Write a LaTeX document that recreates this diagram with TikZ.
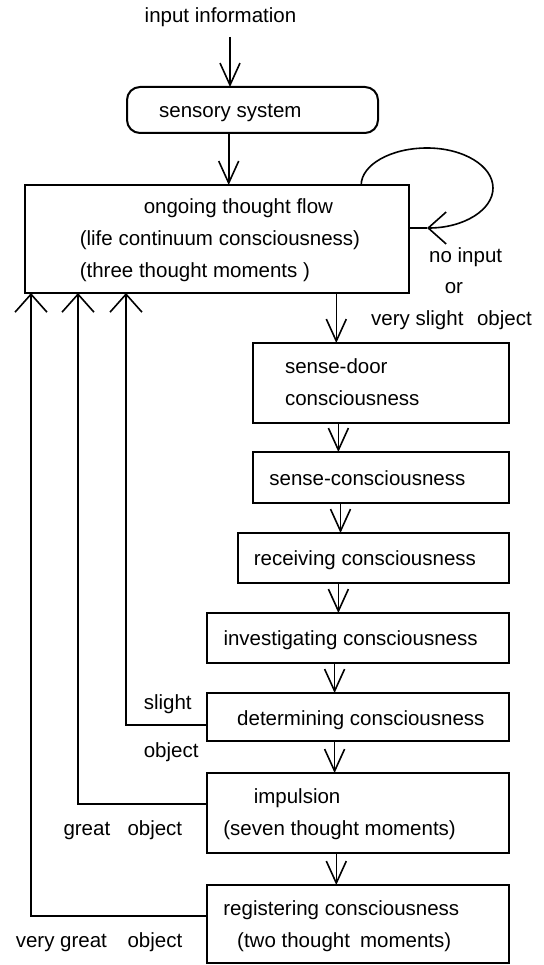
\documentclass[tikz,border=0pt]{standalone}
\usepackage{fontspec}
\setmainfont{Liberation Sans}
\usetikzlibrary{arrows.meta}
\begin{document}
\begin{tikzpicture}[x=1pt,y=-1pt,
  txt/.style={anchor=base west,inner sep=0pt,font=\fontsize{20.5}{24}\selectfont},
  box/.style={draw,line width=2pt,inner sep=0pt,outer sep=0pt},
  conn/.style={line width=1.6pt},
  downarr/.style={conn,-{Straight Barb[length=22pt,width=20pt]}},
  widearr/.style={conn,-{Straight Barb[length=18pt,width=32pt]}}]
\fill[white] (0,0) rectangle (543,965);
\useasboundingbox (0,0) rectangle (543,965);
% boxes
\node[box,rounded corners=13pt,minimum width=251pt,minimum height=46pt] (sensory) at (252.5,110) {};
\node[box,minimum width=383.6pt,minimum height=108pt] (main) at (216.8,239) {};
\node[box,minimum width=255.7pt,minimum height=80pt] (sdoor) at (380.85,383) {};
\node[box,minimum width=255.7pt,minimum height=51pt] (scons) at (380.85,477.5) {};
\node[box,minimum width=270.3pt,minimum height=50pt] (recv) at (373.55,558) {};
\node[box,minimum width=302.1pt,minimum height=50pt] (inv) at (357.65,638) {};
\node[box,minimum width=302.1pt,minimum height=48pt] (det) at (357.65,717) {};
\node[box,minimum width=302.1pt,minimum height=80pt] (imp) at (357.65,813) {};
\node[box,minimum width=302.1pt,minimum height=78pt] (reg) at (357.65,924) {};
% texts
\node[txt] (input) at (144.5,22.5) {input information};
\node[txt] (tsens) at (159,117.5) {sensory system};
\node[txt] (tm1) at (143.6,213.5) {ongoing thought flow};
\node[txt] (tm2) at (79.6,245.5) {(life continuum consciousness)};
\node[txt] (tm3) at (79.6,277.5) {(three thought moments )};
\node[txt] (tno) at (429,262.5) {no input};
\node[txt] (tor) at (444.6,293.5) {or};
\node[txt] (tvs) at (371,325.5) {very slight\hspace{7.9pt} object};
\node[txt] (tsd1) at (284.8,373.5) {sense-door};
\node[txt] (tsd2) at (284.8,405.5) {consciousness};
\node[txt] (tsc) at (269.2,485.5) {sense-consciousness};
\node[txt] (trc) at (253.6,565.5) {receiving consciousness};
\node[txt] (tinv) at (223.3,645) {investigating consciousness};
\node[txt] (tdet) at (237,725.5) {determining consciousness};
\node[txt] (tsl1) at (143.6,709.5) {slight};
\node[txt] (tsl2) at (143.6,757.5) {object};
\node[txt] (timp1) at (253.6,803.5) {impulsion};
\node[txt] (timp2) at (223.2,835.5) {(seven thought moments)};
\node[txt] (tgr) at (63.3,835.5) {great\hspace{11.6pt} object};
\node[txt] (treg1) at (223.2,915.5) {registering consciousness};
\node[txt] (treg2) at (237,947.5) {(two thought\hspace{4.4pt} moments)};
\node[txt] (tvg) at (15.6,947.5) {very great\hspace{14.9pt} object};
% arrow columns
\coordinate (a1) at (230,37);
\coordinate (a2) at (228.7,0);
\coordinate (a3) at (336.3,0);
\coordinate (a4) at (338.4,0);
\coordinate (a5) at (340.5,0);
\coordinate (a6) at (338.4,0);
\coordinate (a7) at (334.6,0);
\coordinate (a8) at (334.6,0);
\coordinate (a9) at (336.3,0);
\draw[downarr] (a1) -- (a1 |- sensory.north);
\draw[downarr] (a2 |- sensory.south) -- (a2 |- main.north);
\draw[downarr] (a3 |- main.south) -- (a3 |- sdoor.north);
\draw[downarr] (a4 |- sdoor.south) -- (a4 |- scons.north);
\draw[downarr] (a5 |- scons.south) -- (a5 |- recv.north);
\draw[downarr] (a6 |- recv.south) -- (a6 |- inv.north);
\draw[downarr] (a7 |- inv.south) -- (a7 |- det.north);
\draw[downarr] (a8 |- det.south) -- (a8 |- imp.north);
\draw[downarr] (a9 |- imp.south) -- (a9 |- reg.north);
% feedback lines
\coordinate (c3) at (126,725);
\coordinate (c2) at (78,804);
\coordinate (c1) at (31,916);
\draw[widearr] (c3 -| det.west) -- (c3) -- (c3 |- main.south);
\draw[widearr] (c2 -| imp.west) -- (c2) -- (c2 |- main.south);
\draw[widearr] (c1 -| reg.west) -- (c1) -- (c1 |- main.south);
% loop
\coordinate (lx) at (361.2,0);
\coordinate (lp) at (427,228);
\draw[widearr] (lx |- main.north) .. controls (361.2,165) and (390.5,148) .. (427,148)
  .. controls (463.5,148) and (493,165.9) .. (493,188)
  .. controls (493,210.1) and (463.5,228) .. (lp);
\draw[conn] (lp) -- (lp -| main.east);
\end{tikzpicture}
\end{document}
